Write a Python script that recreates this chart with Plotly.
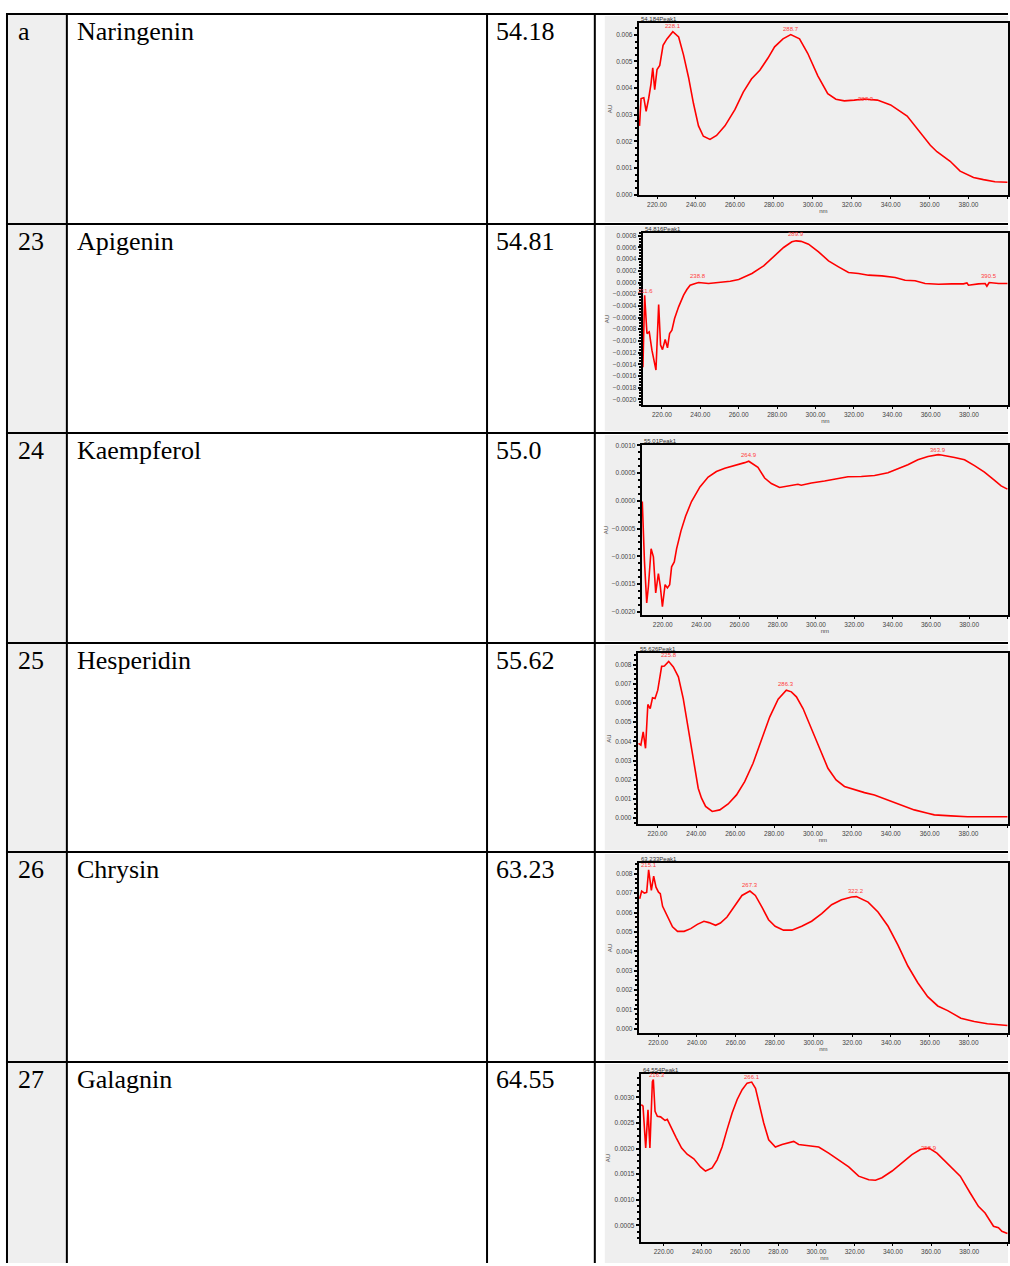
import numpy as np
import plotly.graph_objects as go

W, H = 1010, 1266

# ---------------- table data ----------------
row_ids = ["a", "23", "24", "25", "26", "27"]
compounds = ["Naringenin", "Apigenin", "Kaempferol", "Hesperidin", "Chrysin", "Galagnin"]
ret_times = ["54.18", "54.81", "55.0", "55.62", "63.23", "64.55"]
peak_titles = ["54.184Peak1", "54.816Peak1", "55.01Peak1", "55.626Peak1", "63.233Peak1", "64.554Peak1"]

# ---------------- spectra (nm, AU) ----------------
wl_naringenin = [211.0, 211.8, 213.2, 214.4, 215.7, 216.9, 217.8, 218.8, 220.0, 221.4, 223.1, 225.1, 228.1, 231.1,
                 233.6, 236.2, 238.7, 241.3, 243.8, 247.2, 250.6, 254.9, 260.0, 264.3, 268.5, 272.8, 277.0, 280.4,
                 284.7, 288.7, 293.2, 297.4, 302.6, 307.7, 311.9, 316.2, 321.3, 326.4, 333.2, 340.0, 348.5, 355.3,
                 360.4, 363.8, 370.6, 375.7, 382.6, 387.7, 393.6, 400.0]
au_naringenin = [0.00258, 0.00361, 0.00364, 0.00313, 0.00361, 0.00416, 0.00476, 0.00394, 0.00470, 0.00485, 0.00561,
                 0.00585, 0.00612, 0.00592, 0.00525, 0.00440, 0.00343, 0.00258, 0.00219, 0.00207, 0.00222, 0.00258,
                 0.00319, 0.00385, 0.00434, 0.00467, 0.00513, 0.00555, 0.00585, 0.00601, 0.00585, 0.00531, 0.00446,
                 0.00379, 0.00358, 0.00352, 0.00355, 0.00359, 0.00355, 0.00337, 0.00295, 0.00234, 0.00185, 0.00161,
                 0.00125, 0.00088, 0.00064, 0.00056, 0.00048, 0.00046]

wl_apigenin = [210.1, 211.0, 212.2, 213.4, 214.8, 216.0, 216.9, 218.3, 219.3, 220.3, 221.7, 222.9, 224.0, 225.2, 226.6,
               228.7, 231.3, 233.0, 234.7, 237.4, 239.1, 244.3, 249.5, 255.6, 260.0, 266.9, 273.0, 278.2, 283.4,
               287.7, 289.9, 292.5, 296.4, 301.6, 306.8, 312.0, 317.2, 322.4, 327.6, 334.6, 341.5, 346.7, 351.9,
               357.1, 364.1, 371.0, 377.1, 378.9, 379.7, 384.9, 388.4, 389.3, 390.5, 395.4, 400.0]
au_apigenin = [-0.00145, -0.000217, -0.000874, -0.000846, -0.00116, -0.00136, -0.00150, -0.000377, -0.00107,
               -0.00115, -0.000977, -0.00112, -0.000874, -0.000817, -0.000617, -0.000417, -0.000217, -0.00012,
               -0.000046, -0.000017, 0.0, -0.000017, 0.0, 0.000023, 0.000051, 0.000154, 0.000286, 0.00044, 0.0006,
               0.000697, 0.000714, 0.000705, 0.000657, 0.000526, 0.000371, 0.000269, 0.000171, 0.000154, 0.000126,
               0.000114, 0.000086, 0.00004, 0.000029, -0.000017, -0.000029, -0.000023, -0.000023, -0.000006,
               -0.000046, -0.000023, -0.000017, -0.000063, 0.0, -0.000017, -0.000017]

wl_kaempferol = [209.3, 210.4, 211.6, 212.5, 213.9, 215.1, 216.3, 217.7, 218.7, 219.8, 221.2, 222.4, 223.6, 224.6,
                 226.0, 227.2, 229.5, 231.9, 235.0, 239.4, 243.7, 248.0, 252.4, 257.6, 262.8, 264.9, 269.7, 273.2,
                 276.7, 281.0, 285.4, 290.6, 292.3, 297.6, 304.5, 311.5, 316.7, 323.7, 330.6, 337.6, 342.8, 348.0,
                 353.2, 358.5, 363.9, 365.4, 372.4, 377.6, 382.8, 388.0, 393.3, 396.7, 400.0]
au_kaempferol = [-0.000012, -0.00107, -0.00184, -0.00154, -0.000865, -0.00101, -0.00166, -0.00131, -0.00154,
                 -0.00191, -0.00151, -0.00157, -0.00151, -0.00119, -0.0011, -0.000865, -0.000541, -0.000276,
                 -0.000012, 0.000253, 0.000429, 0.000529, 0.000588, 0.000635, 0.00069, 0.000715, 0.000606, 0.000412,
                 0.000312, 0.000241, 0.000271, 0.0003, 0.000282, 0.000324, 0.000359, 0.0004, 0.000435, 0.000441,
                 0.000459, 0.000506, 0.000576, 0.000653, 0.000741, 0.0008, 0.000835, 0.000829, 0.000782, 0.000741,
                 0.000635, 0.000518, 0.000371, 0.000271, 0.000212]

wl_hesperidin = [210.3, 211.5, 212.7, 213.9, 215.1, 216.3, 217.5, 218.8, 220.2, 222.2, 223.6, 225.8, 228.2, 230.8,
                 233.3, 235.9, 238.5, 241.0, 242.7, 244.8, 248.2, 252.1, 256.4, 260.7, 264.9, 269.2, 273.5, 277.8,
                 282.1, 284.6, 286.3, 288.9, 291.5, 294.9, 299.1, 303.4, 307.7, 311.9, 316.2, 321.4, 326.5, 331.6,
                 338.5, 345.3, 352.1, 359.0, 362.4, 370.9, 379.5, 388.0, 400.0]
au_hesperidin = [0.0039, 0.00381, 0.0045, 0.00364, 0.00592, 0.00571, 0.00627, 0.00623, 0.00667, 0.00791, 0.00793,
                 0.00817, 0.00788, 0.00736, 0.00623, 0.00468, 0.00294, 0.00156, 0.00104, 0.00061, 0.00035, 0.00043,
                 0.00074, 0.00121, 0.0019, 0.00286, 0.00407, 0.00528, 0.0062, 0.00649, 0.00667, 0.00658, 0.00632,
                 0.00571, 0.00464, 0.00364, 0.0026, 0.00199, 0.00165, 0.00147, 0.00133, 0.00121, 0.00095, 0.00069,
                 0.00043, 0.00026, 0.00017, 0.00012, 0.00007, 0.00007, 0.00007]

wl_chrysin = [210.5, 211.5, 212.9, 214.1, 215.1, 216.5, 217.7, 218.9, 220.2, 221.1, 222.3, 224.0, 225.7, 227.4,
              230.0, 233.4, 236.8, 240.2, 243.6, 246.2, 249.6, 252.1, 255.5, 259.8, 263.2, 267.3, 270.1, 273.5,
              276.9, 280.3, 284.6, 288.9, 294.0, 299.1, 304.3, 309.4, 314.5, 319.7, 322.2, 328.2, 333.3, 338.5,
              343.6, 348.7, 353.8, 358.9, 364.1, 369.2, 376.0, 382.9, 389.7, 400.0]
au_chrysin = [0.00671, 0.00711, 0.007, 0.00704, 0.0082, 0.00714, 0.00788, 0.00731, 0.00705, 0.00697, 0.00632,
              0.00598, 0.00563, 0.00526, 0.00503, 0.00503, 0.00517, 0.00539, 0.00555, 0.00548, 0.00534, 0.00546,
              0.00577, 0.00637, 0.00688, 0.00711, 0.00688, 0.00628, 0.00563, 0.00529, 0.00509, 0.00509, 0.00529,
              0.00555, 0.00594, 0.0064, 0.00666, 0.0068, 0.00682, 0.00654, 0.00603, 0.00529, 0.00432, 0.00324,
              0.00238, 0.00166, 0.00118, 0.00094, 0.00055, 0.00038, 0.00026, 0.00017]

wl_galangin = [208.3, 209.2, 210.6, 211.8, 212.8, 214.1, 214.6, 215.5, 216.7, 218.4, 219.7, 220.7, 221.9, 223.1,
               224.5, 226.6, 229.4, 232.3, 235.8, 239.3, 241.9, 245.4, 248.0, 250.6, 253.2, 255.9, 258.5, 261.1,
               263.7, 266.1, 268.1, 269.8, 272.4, 275.0, 278.5, 282.0, 285.5, 288.1, 290.7, 296.0, 301.2, 306.4,
               311.7, 316.9, 322.1, 327.4, 330.9, 334.3, 339.6, 344.8, 350.0, 354.4, 358.9, 363.1, 369.2, 375.3,
               380.5, 384.8, 388.3, 392.7, 395.3, 397.1, 400.0]
au_galangin = [0.00286, 0.00283, 0.00201, 0.00276, 0.00201, 0.00331, 0.00335, 0.00273, 0.00263, 0.00262, 0.00258,
               0.00255, 0.00257, 0.00247, 0.00237, 0.00221, 0.00201, 0.00189, 0.0018, 0.00164, 0.00156, 0.00162,
               0.00178, 0.00203, 0.00237, 0.0027, 0.00296, 0.00315, 0.00328, 0.0033, 0.00318, 0.00292, 0.0025,
               0.00217, 0.00203, 0.00208, 0.00211, 0.00214, 0.00208, 0.00206, 0.00203, 0.00191, 0.00178, 0.00164,
               0.00146, 0.00139, 0.00138, 0.00143, 0.00156, 0.00172, 0.00188, 0.00198, 0.00201, 0.00191, 0.00169,
               0.00146, 0.00113, 0.00087, 0.00074, 0.00048, 0.00045, 0.00038, 0.00034]

# peak labels (nm)
peaks_naringenin = [228.1, 288.7, 327.3]
peaks_apigenin = [211.6, 238.8, 289.9, 390.5]
peaks_kaempferol = [264.9, 363.9]
peaks_hesperidin = [225.8, 286.3]
peaks_chrysin = [215.1, 267.3, 322.2]
peaks_galangin = [216.3, 266.1, 358.9]

spectra = [
    (wl_naringenin, au_naringenin, peaks_naringenin),
    (wl_apigenin, au_apigenin, peaks_apigenin),
    (wl_kaempferol, au_kaempferol, peaks_kaempferol),
    (wl_hesperidin, au_hesperidin, peaks_hesperidin),
    (wl_chrysin, au_chrysin, peaks_chrysin),
    (wl_galangin, au_galangin, peaks_galangin),
]

# ---------------- axis settings (styles/positions) ----------------
x_ranges = [[210.6, 400.3], [210.0, 400.3], [209.0, 400.3], [209.9, 400.3], [210.0, 400.3], [208.0, 400.3]]
y_ranges = [[-0.00002, 0.00645], [-0.0021, 0.00085], [-0.00206, 0.00101],
            [-0.00031, 0.00861], [-0.00022, 0.00856], [0.00017, 0.00346]]
y_dticks = [0.001, 0.0002, 0.0005, 0.001, 0.001, 0.0005]
y_formats = [".3f", ".4f", ".4f", ".3f", ".3f", ".4f"]
# frame boxes in pixels: left, top, bottom (right edge is page edge)
frames = [(640, 20, 193), (644, 231, 404), (643, 444, 615), (639, 653, 825), (640, 864, 1035), (642, 1076, 1245)]
# per-label vertical offset of label centre above the peak, px (0 -> label sits on the curve)
label_shifts = [[6, 6, 0], [4, 7, 7, 7], [6, 5], [6, 6], [5, 6, 6], [5, 5, 0]]

row_lines = [11, 222, 432, 643, 853, 1064]
col_lines = [7, 67, 488, 596]


def px(x):
    return x / W


def py(y):
    return 1 - y / H


fig = go.Figure()
shapes = []
annotations = []

# backgrounds
shapes.append(dict(type="rect", xref="paper", yref="paper", x0=px(7), x1=px(67), y0=0, y1=py(11),
                   fillcolor="#efefef", line=dict(width=0), layer="below"))
for i in range(6):
    top = row_lines[i] + 2
    bot = (row_lines[i + 1] - 2) if i + 1 < len(row_lines) else H
    shapes.append(dict(type="rect", xref="paper", yref="paper", x0=px(606), x1=1, y0=py(bot), y1=py(top),
                       fillcolor="#efefef", line=dict(width=0), layer="below"))

# table borders
for y in row_lines:
    shapes.append(dict(type="line", xref="paper", yref="paper", x0=px(6), x1=1, y0=py(y), y1=py(y),
                       line=dict(color="black", width=2)))
for x in col_lines:
    shapes.append(dict(type="line", xref="paper", yref="paper", x0=px(x), x1=px(x), y0=0, y1=py(11),
                       line=dict(color="black", width=2)))

# table text
serif = "Liberation Serif, Times New Roman, serif"
for i in range(6):
    ytxt = py(row_lines[i] + 1)
    for txt, xx in [(row_ids[i], 16), (compounds[i], 75), (ret_times[i], 495)]:
        annotations.append(dict(text=txt, xref="paper", yref="paper", x=px(xx), y=ytxt, xanchor="left",
                                yanchor="top", showarrow=False, font=dict(family=serif, size=26, color="black")))

sans = "Liberation Sans, Arial, sans-serif"
tickfont = dict(family=sans, size=6.5, color="#444")

for i, (wl, au, peaks) in enumerate(spectra):
    n = i + 1
    xa = "x" if n == 1 else f"x{n}"
    ya = "y" if n == 1 else f"y{n}"
    left, top, bot = frames[i]
    fig.add_trace(go.Scatter(x=wl, y=au, mode="lines", line=dict(color="#ff0000", width=1.6),
                             xaxis=xa, yaxis=ya, hoverinfo="skip"))
    xkey = "xaxis" if n == 1 else f"xaxis{n}"
    ykey = "yaxis" if n == 1 else f"yaxis{n}"
    fig.update_layout(**{
        xkey: dict(domain=[px(left), 1.0], anchor=ya, range=x_ranges[i], dtick=20, tick0=0,
                   tickformat=".2f", showgrid=False, zeroline=False, showline=True, mirror=True,
                   linecolor="black", linewidth=2, ticks="outside", ticklen=2, tickcolor="black",
                   tickfont=tickfont, title=dict(text="nm", font=dict(family=sans, size=6, color="#444"),
                                                 standoff=2)),
        ykey: dict(domain=[py(bot), py(top)], anchor=xa, range=y_ranges[i], dtick=y_dticks[i], tick0=0,
                   tickformat=y_formats[i], showgrid=False, zeroline=False, showline=True, mirror=True,
                   linecolor="black", linewidth=2, ticks="outside", ticklen=3, tickwidth=2, tickcolor="black",
                   minor=dict(ticks="outside", ticklen=2, tickcolor="black", dtick=y_dticks[i] / 4),
                   tickfont=tickfont, title=dict(text="AU", font=dict(family=sans, size=6, color="#444"),
                                                 standoff=3)),
    })
    # header
    annotations.append(dict(text=peak_titles[i], xref=f"{xa} domain", yref=f"{ya} domain", x=0, y=1,
                            xanchor="left", yanchor="bottom", showarrow=False, yshift=-1,
                            font=dict(family=sans, size=6, color="#333")))
    # peak labels: placed above the local maximum near the peak wavelength
    wl_arr = np.asarray(wl)
    au_arr = np.asarray(au)
    for j, pk in enumerate(peaks):
        near = np.abs(wl_arr - pk) <= 2.0
        yv = float(au_arr[near].max()) if near.any() else float(np.interp(pk, wl, au))
        annotations.append(dict(text=f"{pk:.1f}", xref=xa, yref=ya, x=pk, y=yv, xanchor="center",
                                yanchor="middle", yshift=label_shifts[i][j], showarrow=False,
                                font=dict(family=sans, size=6, color="#ff4040")))

fig.update_layout(width=W, height=H, margin=dict(l=0, r=0, t=0, b=0), paper_bgcolor="white",
                  plot_bgcolor="rgba(0,0,0,0)", showlegend=False, hovermode=False,
                  shapes=shapes, annotations=annotations)

fig.write_html("out.html",
               post_script="document.documentElement.style.overflow='hidden';"
                           "document.body.style.margin='0';document.body.style.overflow='hidden';")
